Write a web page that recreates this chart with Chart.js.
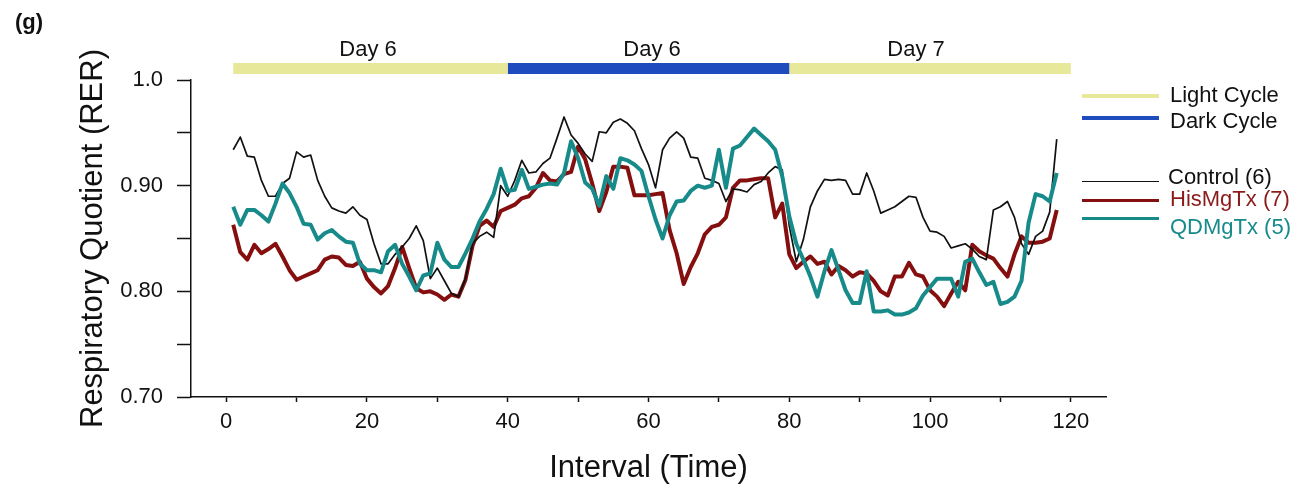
<!DOCTYPE html>
<html>
<head>
<meta charset="utf-8">
<script src="https://cdn.jsdelivr.net/npm/chart.js@4.4.1/dist/chart.umd.min.js"></script>
<style>
  body { margin: 0; background: #fff; font-family: 'Liberation Sans', Arial, sans-serif; }
  #wrap { position: relative; width: 1305px; height: 491px; }
  .lbl { position: absolute; white-space: nowrap; font-size: 22px; line-height: 22px; color: #111; }
  .day { transform: translateX(-50%); }
  .key { position: absolute; left: 1082px; width: 77px; }
</style>
</head>
<body>
<div id="wrap">
  <canvas id="chart"></canvas>

  <div class="lbl" style="left:15px; top:11px; font-weight:bold;">(g)</div>

  <div class="lbl day" style="left:368px; top:38px;">Day 6</div>
  <div class="lbl day" style="left:652px; top:38px;">Day 6</div>
  <div class="lbl day" style="left:916px; top:38px;">Day 7</div>

  <div class="key" style="top:94px; height:4px; background:#e8e89b;"></div>
  <div class="lbl" style="left:1170px; top:84px;">Light Cycle</div>
  <div class="key" style="top:116px; height:4px; background:#1e4bbe;"></div>
  <div class="lbl" style="left:1170px; top:110px;">Dark Cycle</div>

  <div class="key" style="top:181px; height:1px; background:#111;"></div>
  <div class="lbl" style="left:1168px; top:166px;">Control (6)</div>
  <div class="key" style="top:199px; height:3px; background:#850f0f;"></div>
  <div class="lbl" style="left:1170px; top:188px; color:#8b1a1a;">HisMgTx (7)</div>
  <div class="key" style="top:217px; height:3px; background:#178a8a;"></div>
  <div class="lbl" style="left:1170px; top:216px; color:#178a8a;">QDMgTx (5)</div>
</div>

<script>
// interval index (x axis), 1..118
const intervals = Array.from({ length: 118 }, (_, i) => i + 1);

const control = [
  .934, .946, .928, .927, .905, .890, .890, .902, .907, .932,
  .927, .929, .905, .890, .879, .876, .874, .880, .872, .868,
  .845, .826, .826, .835, .842, .850, .862, .848, .812, .822,
  .810, .798, .795, .812, .845, .852, .856, .851, .900, .890,
  .905, .924, .912, .913, .921, .926, .945, .965, .948, .940,
  .930, .923, .951, .950, .960, .963, .959, .952, .935, .920,
  .898, .934, .945, .951, .945, .927, .926, .907, .905, .902,
  .885, .897, .896, .894, .901, .904, .912, .918, .915, .862,
  .828, .849, .880, .895, .906, .905, .906, .905, .892, .892,
  .912, .895, .874, .877, .880, .885, .890, .889, .870, .857,
  .856, .852, .841, .843, .845, .840, .833, .830, .877, .880,
  .885, .870, .845, .835, .852, .857, .875, .944
];

const hisMgTx = [
  .863, .837, .830, .844, .836, .840, .845, .833, .820, .811,
  .814, .817, .820, .830, .833, .832, .825, .824, .828, .812,
  .804, .798, .805, .822, .842, .822, .803, .799, .800, .797,
  .792, .797, .795, .811, .843, .862, .867, .861, .876, .879,
  .882, .888, .890, .898, .912, .905, .904, .911, .913, .937,
  .925, .902, .876, .894, .918, .918, .917, .891, .891, .891,
  .892, .893, .858, .836, .807, .823, .836, .854, .861, .863,
  .870, .898, .905, .905, .906, .907, .907, .870, .883, .835,
  .822, .828, .833, .826, .828, .816, .824, .820, .814, .818,
  .817, .810, .800, .796, .814, .814, .827, .816, .814, .801,
  .795, .786, .798, .809, .801, .844, .838, .834, .831, .822,
  .814, .835, .852, .846, .846, .847, .850, .877
];

const qdMgTx = [
  .880, .863, .877, .877, .872, .866, .883, .902, .893, .880,
  .864, .863, .849, .855, .858, .852, .847, .846, .826, .820,
  .820, .818, .838, .844, .826, .814, .801, .815, .817, .846,
  .830, .823, .823, .836, .850, .866, .878, .892, .916, .895,
  .896, .915, .897, .899, .901, .902, .901, .912, .942, .926,
  .903, .897, .881, .909, .897, .926, .924, .920, .914, .890,
  .868, .850, .872, .885, .886, .895, .900, .898, .900, .934,
  .898, .935, .938, .946, .954, .948, .942, .934, .909, .871,
  .845, .830, .814, .795, .819, .839, .820, .801, .789, .789,
  .819, .781, .781, .782, .778, .778, .780, .784, .796, .804,
  .812, .812, .812, .795, .828, .831, .818, .806, .809, .788,
  .790, .795, .810, .865, .892, .890, .885, .912
];

// light / dark cycle spans (interval units)
const cycleNames = ['Light Cycle', 'Dark Cycle', 'Light Cycle'];
const cycleStart = [1, 40, 80];
const cycleEnd = [40, 80, 120];

const xTickValues = [0, 10, 20, 30, 40, 50, 60, 70, 80, 90, 100, 110, 120];
const xTickLabels = ['0', '', '20', '', '40', '', '60', '', '80', '', '100', '', '120'];
const yTickValues = [0.70, 0.75, 0.80, 0.85, 0.90, 0.95, 1.0];
const yTickLabels = ['0.70', '', '0.80', '', '0.90', '', '1.0'];

const FONT = "'Liberation Sans', Arial, sans-serif";
const INK = '#111';
const BAR_LEVEL = 1.011;

Chart.defaults.font.family = FONT;
Chart.defaults.color = INK;

const cycleSets = cycleNames.map((name, i) => ({
    label: name,
    data: [{ x: cycleStart[i], y: BAR_LEVEL }, { x: cycleEnd[i], y: BAR_LEVEL }],
    borderColor: name === 'Dark Cycle' ? '#1e4bbe' : '#e8e89b',
    borderWidth: 11,
    borderCapStyle: 'butt',
    clip: false,
    order: 5,
}));

new Chart(document.getElementById('chart'), {
    type: 'line',
    data: {
        labels: intervals,
        datasets: [
            {
                label: 'QDMgTx (5)',
                data: qdMgTx,
                borderColor: '#178a8a',
                borderWidth: 4,
                order: 0,
            },
            {
                label: 'Control (6)',
                data: control,
                borderColor: '#111',
                borderWidth: 1.7,
                order: 1,
            },
            {
                label: 'HisMgTx (7)',
                data: hisMgTx,
                borderColor: '#850f0f',
                borderWidth: 4,
                order: 2,
            },
            ...cycleSets,
        ],
    },
    options: {
        responsive: true,
        maintainAspectRatio: false,
        animation: false,
        layout: {
            padding: { top: 80, right: 199, left: 0, bottom: 0 },
        },
        elements: {
            point: { radius: 0, hoverRadius: 0 },
            line: { tension: 0, borderJoinStyle: 'round' },
        },
        plugins: {
            legend: { display: false },
            tooltip: { enabled: false },
        },
        scales: {
            x: {
                type: 'linear',
                min: -5,
                max: 125,
                afterFit: (axis) => { axis.height = 94; },
                afterBuildTicks: (axis) => {
                    axis.ticks = xTickValues.map((value) => ({ value }));
                },
                border: { color: INK, width: 1.5 },
                grid: {
                    drawOnChartArea: false,
                    tickLength: 5,
                    tickColor: INK,
                    tickWidth: 1.5,
                },
                ticks: {
                    autoSkip: false,
                    maxRotation: 0,
                    padding: 7,
                    color: INK,
                    font: { size: 22 },
                    callback: (value, index) => xTickLabels[index],
                },
                title: {
                    display: true,
                    text: 'Interval (Time)',
                    color: INK,
                    font: { size: 31 },
                    padding: { top: 0, bottom: 4 },
                },
            },
            y: {
                min: 0.7,
                max: 1.0,
                afterFit: (axis) => { axis.width = 191; },
                afterBuildTicks: (axis) => {
                    axis.ticks = yTickValues.map((value) => ({ value }));
                },
                border: { color: INK, width: 1.5 },
                grid: {
                    drawOnChartArea: false,
                    tickLength: 14,
                    tickColor: INK,
                    tickWidth: 1.5,
                },
                ticks: {
                    autoSkip: false,
                    padding: 14,
                    color: INK,
                    font: { size: 22 },
                    callback: (value, index) => yTickLabels[index],
                },
                title: {
                    display: true,
                    text: 'Respiratory Quotient (RER)',
                    color: INK,
                    font: { size: 31 },
                    padding: { top: 75, bottom: 0 },
                },
            },
        },
    },
});
</script>
</body>
</html>
